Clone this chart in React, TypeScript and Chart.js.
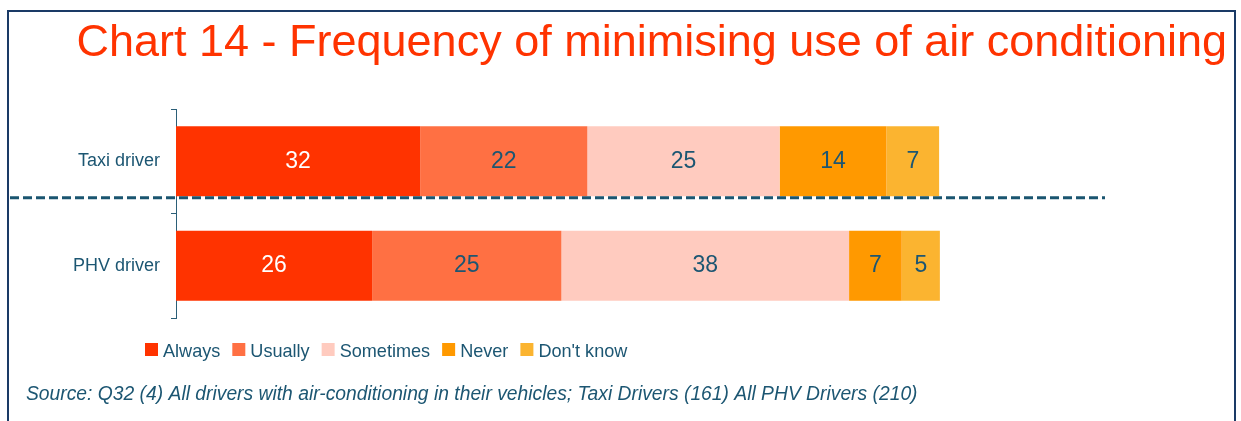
import React, { useEffect, useRef } from "react";
import { Chart, registerables } from "chart.js";

Chart.register(...registerables);

const TITLE = "Chart 14 - Frequency of minimising use of air conditioning";
const SOURCE =
  "Source: Q32 (4) All drivers with air-conditioning in their vehicles; Taxi Drivers (161) All PHV Drivers (210)";

const categories = ["Taxi driver", "PHV driver"];
const seriesNames = ["Always", "Usually", "Sometimes", "Never", "Don't know"];
const always = [32, 25.7];
const usually = [21.9, 24.8];
const sometimes = [25.2, 37.7];
const never = [14, 6.9];
const dontKnow = [6.9, 5.0];
const seriesColors = ["#FF3300", "#FF7043", "#FFCBBF", "#FF9900", "#FBB430"];
const seriesValues = [always, usually, sometimes, never, dontKnow];

const FONT = "'Liberation Sans', Arial, Helvetica, sans-serif";
const TEXT = "#1C5672";
const AXIS = "#2B5F78";
const FRAME = "#1A3A66";

const decor = {
  id: "decor",
  beforeDraw(chart: any) {
    const ctx = chart.ctx;
    ctx.save();
    ctx.fillStyle = "#ffffff";
    ctx.fillRect(0, 0, chart.width, chart.height);
    ctx.strokeStyle = FRAME;
    ctx.lineWidth = 2;
    ctx.beginPath();
    ctx.moveTo(8, chart.height + 2);
    ctx.lineTo(8, 11);
    ctx.lineTo(1235, 11);
    ctx.lineTo(1235, chart.height + 2);
    ctx.stroke();
    ctx.font = `45px ${FONT}`;
    ctx.fillStyle = "#FF3300";
    ctx.textAlign = "right";
    ctx.textBaseline = "alphabetic";
    ctx.fillText(TITLE, 1227, 56);
    ctx.restore();
  },
  afterDatasetsDraw(chart: any) {
    const ctx = chart.ctx;
    ctx.save();
    // value labels
    ctx.font = `23px ${FONT}`;
    ctx.textAlign = "center";
    ctx.textBaseline = "middle";
    chart.data.datasets.forEach((ds: any, i: number) => {
      const meta = chart.getDatasetMeta(i);
      meta.data.forEach((bar: any, j: number) => {
        const v = ds.data[j];
        ctx.fillStyle = i === 0 ? "#ffffff" : TEXT;
        ctx.fillText(String(Math.round(v)), (bar.x + bar.base) / 2, bar.y);
      });
    });
    // dashed divider just under first category bar
    const b0 = chart.getDatasetMeta(0).data[0];
    const y = b0.y + b0.height / 2 + 1.5;
    ctx.strokeStyle = "#1A5570";
    ctx.lineWidth = 3;
    ctx.setLineDash([9, 4]);
    ctx.beginPath();
    ctx.moveTo(10, y);
    ctx.lineTo(chart.chartArea.right - 2, y);
    ctx.stroke();
    ctx.setLineDash([]);
    // legend
    ctx.font = `18.1px ${FONT}`;
    ctx.textAlign = "left";
    ctx.textBaseline = "alphabetic";
    let x = 145;
    chart.data.datasets.forEach((ds: any) => {
      ctx.fillStyle = ds.backgroundColor;
      ctx.fillRect(x, 343, 13, 13);
      x += 18;
      ctx.fillStyle = TEXT;
      ctx.fillText(ds.label, x, 357);
      x += ctx.measureText(ds.label).width + 12;
    });
    // source
    ctx.font = `italic 19.3px ${FONT}`;
    ctx.fillStyle = TEXT;
    ctx.fillText(SOURCE, 26, 400);
    ctx.restore();
  },
};

export default function App() {
  const ref = useRef<HTMLCanvasElement | null>(null);
  useEffect(() => {
    if (!ref.current) return;
    const chart = new Chart(ref.current, {
      type: "bar",
      data: {
        labels: categories,
        datasets: seriesNames.map((name, i) => ({
          label: name,
          data: seriesValues[i],
          backgroundColor: seriesColors[i],
          borderWidth: 0,
          barPercentage: 0.67,
          categoryPercentage: 1.0,
        })),
      },
      options: {
        indexAxis: "y",
        responsive: false,
        animation: false,
        layout: { padding: { left: 0, right: 134, top: 109, bottom: 103 } },
        plugins: {
          legend: { display: false },
          title: { display: false },
          tooltip: { enabled: false },
        },
        scales: {
          x: { stacked: true, min: 0, max: 122, display: false },
          y: {
            stacked: true,
            offset: true,
            grid: {
              offset: true,
              drawOnChartArea: false,
              drawTicks: true,
              tickLength: 5,
              color: AXIS,
              lineWidth: 1,
            },
            border: { display: true, color: AXIS, width: 1 },
            ticks: { color: TEXT, font: { family: FONT, size: 18 }, padding: 11 },
            afterFit: (s: any) => {
              s.width = 176;
            },
          },
        },
      },
      plugins: [decor],
    });
    return () => chart.destroy();
  }, []);
  return (
    <div style={{ position: "absolute", left: 0, top: 0, width: 1241, height: 421 }}>
      <canvas ref={ref} width={1241} height={421} />
    </div>
  );
}
